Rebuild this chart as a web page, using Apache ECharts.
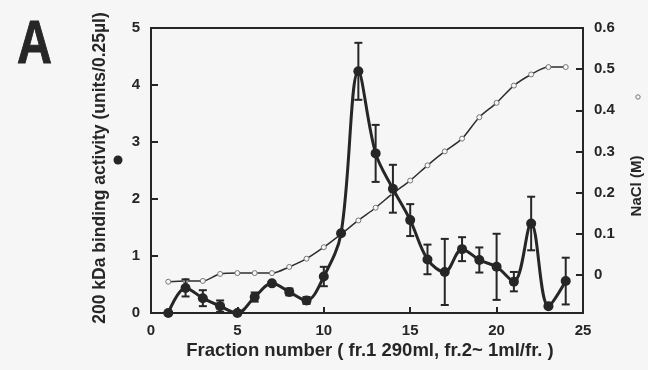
<!DOCTYPE html>
<html>
<head>
<meta charset="utf-8">
<script src="https://cdn.jsdelivr.net/npm/echarts@6/dist/echarts.min.js"></script>
<style>
html,body{margin:0;padding:0;background:#f7f6f6;}
#chart{width:648px;height:370px;}
</style>
</head>
<body>
<div id="chart"></div>
<script>
// Fraction numbers
var fractions = [1,2,3,4,5,6,7,8,9,10,11,12,13,14,15,16,17,18,19,20,21,22,23,24];
// 200 kDa binding activity (units/0.25ul), filled circles
var activity = [0.0,0.44,0.26,0.12,0.0,0.28,0.52,0.37,0.22,0.64,1.40,4.24,2.80,2.18,1.63,0.94,0.72,1.12,0.93,0.81,0.55,1.57,0.12,0.56];
// half-width of error bars (0 = none)
var activityErr = [0,0.15,0.14,0.10,0,0.08,0,0.06,0.06,0.17,0,0.50,0.50,0.42,0.28,0.26,0.58,0.21,0.22,0.58,0.17,0.47,0,0.41];
// NaCl (M), open circles
var nacl = [-0.017,-0.015,-0.015,0.002,0.004,0.004,0.004,0.019,0.039,0.067,0.099,0.132,0.163,0.198,0.229,0.266,0.300,0.331,0.383,0.418,0.460,0.487,0.505,0.505];
// tick labels
var xTicks = [0,5,10,15,20,25];
var leftTicks = [0,1,2,3,4,5];
var rightTicks = [0,0.1,0.2,0.3,0.4,0.5,0.6];

var ink = '#262626';
var bg = '#f7f6f6';
var fontFam = '"Liberation Sans", Arial, sans-serif';

var actData = fractions.map(function(f,i){return [f, activity[i]];});
var naclData = fractions.map(function(f,i){return [f, nacl[i]];});
var errData = [];
fractions.forEach(function(f,i){
  if (activityErr[i] > 0) errData.push([f, activity[i]-activityErr[i], activity[i]+activityErr[i]]);
});

var chart = echarts.init(document.getElementById('chart'), null, {renderer:'canvas'});
var option = {
  backgroundColor: bg,
  animation: false,
  grid: {left:151, right:65, top:28, bottom:57, show:true, borderColor:ink, borderWidth:2, backgroundColor:'transparent'},
  xAxis: {
    type:'value', min:xTicks[0], max:xTicks[xTicks.length-1], interval:5,
    axisLine:{show:true, lineStyle:{color:ink, width:2}},
    axisTick:{show:true, inside:true, length:6, lineStyle:{color:ink, width:2}},
    axisLabel:{color:ink, fontSize:15, fontWeight:'bold', fontFamily:fontFam, margin:10},
    splitLine:{show:false}
  },
  yAxis: [{
    type:'value', min:leftTicks[0], max:leftTicks[leftTicks.length-1], interval:1, position:'left',
    axisLine:{show:true, lineStyle:{color:ink, width:2}},
    axisTick:{show:true, inside:true, length:7, lineStyle:{color:ink, width:2}},
    axisLabel:{color:ink, fontSize:15, fontWeight:'bold', fontFamily:fontFam, margin:11},
    splitLine:{show:false}
  },{
    type:'value', min:-0.093, max:0.6, position:'right',
    axisLine:{show:true, lineStyle:{color:ink, width:2}},
    axisTick:{show:true, inside:true, length:7, customValues:rightTicks.slice(0,6), lineStyle:{color:ink, width:2}},
    axisLabel:{color:ink, fontSize:15, fontWeight:'bold', fontFamily:fontFam, margin:11,
      customValues:rightTicks,
      formatter:function(v){ return Math.abs(v)<1e-9 ? '0' : (Math.round(v*10)/10).toString(); }},
    splitLine:{show:false}
  }],
  series: [{
    type:'line', name:'NaCl', yAxisIndex:1, data:naclData, smooth:0.3,
    symbol:'circle', symbolSize:5,
    lineStyle:{color:'#2e2e2e', width:1.5, type:'solid'},
    itemStyle:{color:bg, borderColor:'#777', borderWidth:1},
    z:2
  },{
    type:'custom', name:'err', yAxisIndex:0, data:errData,
    renderItem:function(params, api){
      var x = api.value(0);
      var lo = api.coord([x, api.value(1)]);
      var hi = api.coord([x, api.value(2)]);
      var hw = 4;
      var st = {stroke:ink, lineWidth:2};
      return {type:'group', children:[
        {type:'line', shape:{x1:lo[0], y1:lo[1], x2:hi[0], y2:hi[1]}, style:st},
        {type:'line', shape:{x1:lo[0]-hw, y1:lo[1], x2:lo[0]+hw, y2:lo[1]}, style:st},
        {type:'line', shape:{x1:hi[0]-hw, y1:hi[1], x2:hi[0]+hw, y2:hi[1]}, style:st}
      ]};
    },
    z:3
  },{
    type:'line', name:'activity', yAxisIndex:0, data:actData, smooth:0.35,
    symbol:'circle', symbolSize:10,
    lineStyle:{color:ink, width:3},
    itemStyle:{color:ink},
    z:4
  }],
  graphic: [
    {type:'text', x:17, y:15, scaleX:0.78, style:{text:'A', font:'bold 62px '+fontFam, fill:ink, stroke:ink, lineWidth:1}},
    {type:'text', x:100, y:168, rotation:Math.PI/2, style:{text:'200 kDa binding activity (units/0.25µl)', font:'bold 17.5px '+fontFam, fill:ink, align:'center', verticalAlign:'middle'}},
    {type:'circle', shape:{cx:118, cy:160, r:4.5}, style:{fill:ink}},
    {type:'text', x:637, y:186, rotation:Math.PI/2, style:{text:'NaCl (M)', font:'bold 15px '+fontFam, fill:ink, align:'center', verticalAlign:'middle'}},
    {type:'circle', shape:{cx:638, cy:97, r:2.2}, style:{fill:'none', stroke:'#777', lineWidth:1}},
    {type:'text', x:370, y:351, style:{text:'Fraction number ( fr.1 290ml, fr.2~ 1ml/fr. )', font:'bold 18.5px '+fontFam, fill:ink, align:'center', verticalAlign:'middle'}}
  ]
};
chart.setOption(option);
</script>
</body>
</html>
